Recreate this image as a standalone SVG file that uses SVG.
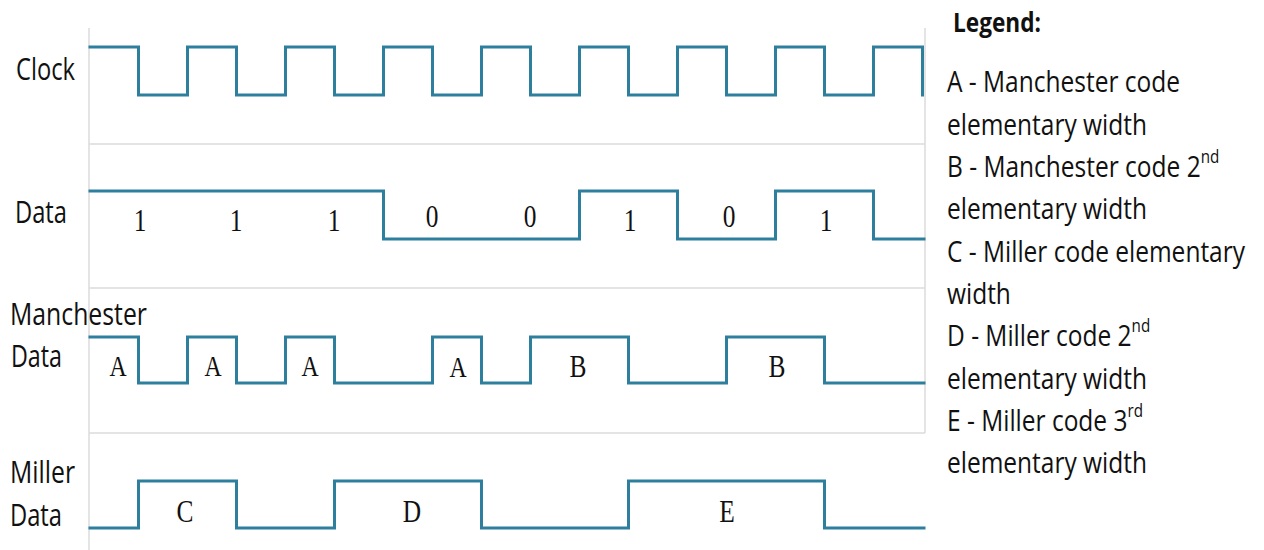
<svg xmlns="http://www.w3.org/2000/svg" width="1264" height="550" viewBox="0 0 1264 550">
<style>
.grid{stroke:#dcdcdc;stroke-width:1.5;fill:none}
.wave{stroke:#2e7f9e;stroke-width:3;fill:none;stroke-linejoin:miter;stroke-linecap:square}
.lbl{font-family:"Open Sans","Noto Sans",sans-serif;font-size:31px;fill:#111}
.ser{font-family:"Liberation Serif","Times New Roman",serif;font-size:31px;fill:#111;text-anchor:middle}
.serA{font-family:"Liberation Serif","Times New Roman",serif;font-size:29px;fill:#111;text-anchor:middle}
.leg{font-family:"Open Sans","Noto Sans",sans-serif;font-size:29px;fill:#111}
.sup{font-size:18px}
.legt{font-family:"Open Sans","Noto Sans",sans-serif;font-size:26px;font-weight:bold;fill:#111}
</style>
<rect width="1264" height="550" fill="#fff"/>
<g id="grid">
<path class="grid" d="M89,28 V550 M925,28 V433 M89,144 H925 M89,288 H925 M89,433 H925"/>
</g>
<g id="clock">
<text class="lbl" x="16" y="80" textLength="59" lengthAdjust="spacingAndGlyphs">Clock</text>
<path class="wave" d="M90,47 H138.5 V95 H187.5 V47 H236.5 V95 H285.5 V47 H334.5 V95 H383.5 V47 H432.5 V95 H481.5 V47 H530.5 V95 H579.5 V47 H628.5 V95 H677.5 V47 H726.5 V95 H775.5 V47 H824.5 V95 H873.5 V47 H922.5 V95"/>
</g>
<g id="data">
<text class="lbl" x="15" y="223" textLength="52" lengthAdjust="spacingAndGlyphs">Data</text>
<path class="wave" d="M90,191 H383.5 V239 H579.5 V191 H677.5 V239 H775.5 V191 H873.5 V239 H924"/>
<g class="ser">
<text transform="translate(140,231) scale(0.82,1)">1</text>
<text transform="translate(236,231) scale(0.82,1)">1</text>
<text transform="translate(334,231) scale(0.82,1)">1</text>
<text transform="translate(432,227) scale(0.82,1)">0</text>
<text transform="translate(530,227) scale(0.82,1)">0</text>
<text transform="translate(630,231) scale(0.82,1)">1</text>
<text transform="translate(729,227) scale(0.82,1)">0</text>
<text transform="translate(826,231) scale(0.82,1)">1</text>
</g>
</g>
<g id="manchester">
<text class="lbl" x="10" y="325" textLength="137" lengthAdjust="spacingAndGlyphs">Manchester</text>
<text class="lbl" x="11" y="367" textLength="51" lengthAdjust="spacingAndGlyphs">Data</text>
<path class="wave" d="M90,337 H138.5 V383 H187.5 V337 H236.5 V383 H285.5 V337 H334.5 V383 H432.5 V337 H481.5 V383 H530.5 V337 H628.5 V383 H726.5 V337 H824.5 V383 H924"/>
<g class="serA">
<text transform="translate(118,376) scale(0.82,1)">A</text>
<text transform="translate(213,376) scale(0.82,1)">A</text>
<text transform="translate(310,376) scale(0.82,1)">A</text>
<text transform="translate(458,377) scale(0.82,1)">A</text>
</g>
<g class="ser">
<text transform="translate(578,377) scale(0.82,1)">B</text>
<text transform="translate(777,377) scale(0.82,1)">B</text>
</g>
</g>
<g id="miller">
<text class="lbl" x="10" y="483" textLength="65" lengthAdjust="spacingAndGlyphs">Miller</text>
<text class="lbl" x="10" y="526" textLength="52" lengthAdjust="spacingAndGlyphs">Data</text>
<path class="wave" d="M90,528 H138.5 V481 H236.5 V528 H334.5 V481 H481.5 V528 H628.5 V481 H824.5 V528 H924"/>
<g class="ser">
<text transform="translate(185,522) scale(0.82,1)">C</text>
<text transform="translate(412,522) scale(0.82,1)">D</text>
<text transform="translate(727,522) scale(0.82,1)">E</text>
</g>
</g>
<g id="legend">
<text class="legt" transform="translate(953,32) scale(0.87,1)">Legend:</text>
<g class="leg" transform="translate(947,0) scale(0.845,1)">
<text x="0" y="92.5">A - Manchester code</text>
<text x="0" y="134.8">elementary width</text>
<text x="0" y="177.1">B - Manchester code 2<tspan class="sup" dy="-14">nd</tspan></text>
<text x="0" y="219.4">elementary width</text>
<text x="0" y="261.7">C - Miller code elementary</text>
<text x="0" y="304">width</text>
<text x="0" y="346.3">D - Miller code 2<tspan class="sup" dy="-14">nd</tspan></text>
<text x="0" y="388.6">elementary width</text>
<text x="0" y="430.9">E - Miller code 3<tspan class="sup" dy="-14">rd</tspan></text>
<text x="0" y="473.2">elementary width</text>
</g>
</g>
</svg>
